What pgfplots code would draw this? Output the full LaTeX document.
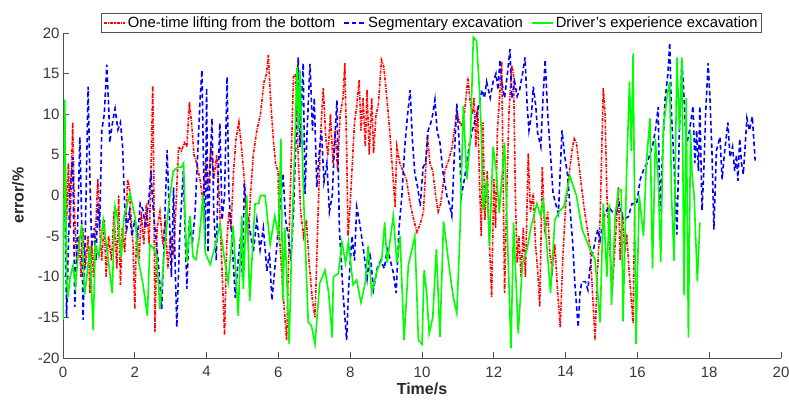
\documentclass[border=0pt]{standalone}
\usepackage{pgfplots}
\pgfplotsset{compat=1.18}
\usepackage{fontspec}
\setmainfont{Liberation Sans}
\definecolor{axgray}{RGB}{80,80,80}
\begin{document}
\begin{tikzpicture}
\path[use as bounding box] (-63pt,-45pt) rectangle (726pt,358pt);
\begin{axis}[
  scale only axis, width=718pt, height=325pt,
  xmin=0, xmax=20, ymin=-20, ymax=20,
  axis x line*=bottom, axis y line*=left,
  axis line style={axgray, line width=0.8pt},
  tick style={axgray, line width=0.8pt},
  tick align=inside, major tick length=6pt,
  xtick={0,2,...,20}, ytick={-20,-15,...,20},
  tick label style={font=\fontsize{15}{17}\selectfont, text=axgray!70!black},
  xticklabel style={yshift=-5pt},
  /pgf/number format/assume math mode=true,
  xlabel={\textbf{Time/s}}, ylabel={\textbf{error/\%}},
  label style={font=\fontsize{16}{18}\selectfont, text=axgray!50!black},
  xlabel style={yshift=1pt},
  ylabel style={yshift=7pt},
  legend columns=-1,
  legend image post style={xscale=1.25},
  legend style={at={(0.513,1.0)}, anchor=south, draw=axgray, line width=0.8pt,
     font=\fontsize{14.8}{16}\selectfont, inner sep=1.5pt,
     /tikz/every even column/.append style={column sep=6pt}},
  legend cell align=left,
]
\addplot[color=red, draw=red, line width=1.6pt, dash pattern=on 3pt off 1.2pt on 1pt off 1.2pt] coordinates {
(0,-2) (0.05,5) (0.1,-3) (0.15,4) (0.2,-4) (0.27,9) (0.32,-2) (0.38,-8) (0.45,-5) (0.5,-10) (0.55,-4) (0.62,-9) (0.7,-5) (0.75,-12) (0.8,-6) (0.85,-10) (0.92,-3) (0.97,2) (1.02,-4) (1.08,-8) (1.15,-3) (1.2,-10) (1.27,-5) (1.35,-8) (1.42,-2) (1.5,-9) (1.55,0) (1.6,-11) (1.65,-4) (1.72,-7) (1.8,2) (1.85,1) (1.9,-3) (1.95,-6) (2.0,-14) (2.05,-4) (2.12,-8) (2.18,-2) (2.25,-6) (2.32,-1) (2.4,-6) (2.45,3) (2.5,13.5) (2.53,2) (2.56,-16.8) (2.62,-4) (2.7,-2) (2.78,-6) (2.85,-3) (2.92,-9) (3.0,-5) (3.08,-7) (3.15,-1) (3.22,6) (3.3,5.5) (3.38,6.5) (3.45,6) (3.52,11.5) (3.58,9) (3.65,5) (3.72,4) (3.82,1.9) (3.9,-1) (3.97,4) (4.05,1) (4.12,6) (4.2,2) (4.28,5) (4.35,0) (4.42,-8) (4.5,-17.2) (4.56,-6) (4.62,-2) (4.68,-4) (4.75,3) (4.82,7) (4.9,9) (4.97,6) (5.05,2) (5.1,-3) (5.16,-5.8) (5.22,0) (5.3,5) (5.4,8) (5.5,10) (5.6,14) (5.67,15) (5.72,17.3) (5.78,12) (5.86,6.8) (5.92,4) (5.99,3) (6.03,-5) (6.1,-10) (6.18,-15) (6.23,-17.8) (6.3,-5) (6.36,5) (6.42,14.6) (6.48,15) (6.55,5) (6.62,-2) (6.7,-5) (6.78,-3) (6.85,-8) (6.95,-13) (7.02,-15) (7.1,-3) (7.18,8) (7.25,13.2) (7.32,7) (7.38,5) (7.45,10) (7.52,4) (7.58,8) (7.65,3) (7.72,10) (7.8,12) (7.85,16.3) (7.9,6) (7.94,-5) (8.0,-1) (8.06,4) (8.12,9) (8.18,11) (8.25,14.2) (8.3,8) (8.36,12) (8.42,6) (8.47,13) (8.53,5) (8.6,12) (8.65,5.2) (8.72,10) (8.78,11) (8.83,14) (8.87,16.7) (8.93,16) (9.0,13) (9.1,8) (9.18,3) (9.25,-1.4) (9.3,6) (9.38,4) (9.47,3) (9.57,1.9) (9.67,-1) (9.77,-3) (9.86,-4.5) (9.95,-3.5) (10.04,-2) (10.1,3) (10.15,7.5) (10.22,4) (10.3,3) (10.38,0) (10.45,-2) (10.52,-1) (10.58,1) (10.64,3.1) (10.72,4) (10.83,5.8) (10.9,8) (10.97,10.1) (11.05,9) (11.1,8.5) (11.18,10) (11.28,14.6) (11.33,12) (11.4,10) (11.45,12) (11.5,6) (11.55,11) (11.6,2) (11.65,-5) (11.7,9) (11.75,-3) (11.82,3) (11.88,-6) (11.94,-12.5) (12.0,2) (12.05,-4) (12.1,8) (12.16,12) (12.22,16.5) (12.26,2) (12.3,-12) (12.36,0) (12.42,10) (12.5,16) (12.55,15) (12.6,0) (12.65,-8.3) (12.7,-5) (12.76,-10) (12.82,-4) (12.88,-10) (12.96,5.2) (13.02,-2) (13.1,0.3) (13.16,-6) (13.22,-9) (13.28,-13.7) (13.35,3.5) (13.42,-4.7) (13.5,-2) (13.56,-7) (13.63,-9.2) (13.7,-6) (13.78,-12) (13.85,-16.2) (13.92,-8) (14.0,-1.4) (14.08,2) (14.18,5.6) (14.24,7) (14.3,6.5) (14.4,2.7) (14.5,-1) (14.6,-4) (14.68,-6.3) (14.75,-12) (14.82,-17.8) (14.88,-10) (14.96,-3) (15.02,8) (15.05,13.2) (15.1,10) (15.15,0) (15.22,-6) (15.3,-11.5) (15.38,-6) (15.47,1) (15.52,-8) (15.58,-2) (15.65,-7) (15.7,-4.7) (15.78,-10) (15.88,-15.7) (15.93,0)
};
\addlegendentry{One-time lifting from the bottom}
\addplot[color=blue, draw=blue, line width=1.6pt, dash pattern=on 4.5pt off 3pt] coordinates {
(0,-5) (0.05,2) (0.1,-15) (0.15,-6) (0.2,1) (0.27,4.7) (0.33,-13.7) (0.4,-5) (0.47,7.2) (0.52,-3) (0.56,-15.3) (0.62,-5) (0.7,13.4) (0.75,2) (0.8,-6.3) (0.87,-4) (0.92,-8) (0.97,-1) (1.02,-4) (1.08,8) (1.15,10) (1.22,16.1) (1.28,10) (1.3,6.5) (1.38,9) (1.45,10.7) (1.53,8.1) (1.6,9) (1.66,6) (1.72,-1.4) (1.78,-4) (1.85,-2) (1.92,-5) (2.0,-3) (2.08,-5) (2.15,-1) (2.23,-1.8) (2.3,-4) (2.4,0) (2.45,3) (2.5,-1) (2.58,-5) (2.65,-8) (2.75,-14) (2.82,-5) (2.9,5.6) (2.96,-2) (3.02,-10) (3.08,1) (3.12,-8) (3.17,-16.2) (3.25,-5) (3.35,3) (3.45,-11.5) (3.52,-3) (3.6,-6) (3.68,-2) (3.75,5) (3.82,12) (3.87,15.4) (3.92,2) (3.96,-6) (4.0,13.2) (4.04,-7) (4.1,4) (4.15,9.5) (4.2,-2) (4.27,-8) (4.32,2) (4.37,8.9) (4.43,-3) (4.5,0) (4.57,14.6) (4.62,0.3) (4.7,-5) (4.8,-12.6) (4.88,-8) (4.95,-5) (5.0,-10) (5.05,1.5) (5.12,-2) (5.2,-4) (5.3,-7) (5.4,-3) (5.49,-6.7) (5.58,-4) (5.68,-9.3) (5.75,-7) (5.82,-12.9) (5.9,-9) (5.96,-6) (6.05,-1) (6.13,2.7) (6.2,-3) (6.28,-5) (6.35,-8) (6.42,-2) (6.5,8) (6.55,17) (6.6,6) (6.65,12) (6.69,16.3) (6.74,0.2) (6.8,8) (6.88,16.2) (6.95,8) (7.0,12) (7.07,1) (7.13,5) (7.2,8) (7.27,1.7) (7.35,4) (7.42,-2) (7.5,0) (7.56,6) (7.63,11.7) (7.7,-4.2) (7.8,-12) (7.9,-17.8) (7.96,-11) (8.05,-5) (8.12,-8) (8.18,-1.4) (8.25,-3) (8.3,-4.5) (8.38,-7) (8.47,-10.3) (8.55,-7) (8.65,-11.5) (8.75,-9) (8.85,-8) (8.95,-9) (9.03,-6.6) (9.12,-8) (9.2,-9.5) (9.28,-12) (9.36,-4) (9.44,0) (9.52,6) (9.6,10) (9.67,13) (9.73,7) (9.8,2.7) (9.88,1) (9.95,-1.3) (10.03,3.5) (10.1,4) (10.17,8) (10.25,9) (10.3,10) (10.36,11.8) (10.42,8) (10.5,6.5) (10.58,3) (10.69,0) (10.76,-1) (10.83,-2.5) (10.9,5) (10.97,11.3) (11.03,7) (11.1,0) (11.18,2) (11.25,4) (11.32,6.3) (11.4,8) (11.48,9.3) (11.58,11) (11.67,13) (11.74,12) (11.8,14) (11.9,12) (11.98,14) (12.06,15) (12.12,13) (12.17,16.7) (12.22,14) (12.3,12) (12.38,15) (12.45,18) (12.5,12) (12.58,14) (12.65,12.2) (12.72,13) (12.8,15) (12.87,17) (12.93,11) (12.98,8) (13.05,10) (13.1,13.4) (13.17,11) (13.22,7.7) (13.31,6) (13.37,12) (13.43,16.7) (13.5,10.1) (13.58,5) (13.65,0.3) (13.72,-1) (13.8,-2.2) (13.85,3) (13.9,8) (13.97,5) (14.06,2.4) (14.13,-2) (14.2,-6) (14.26,-11) (14.35,-16.2) (14.4,-12) (14.45,-10.6) (14.55,-10.6) (14.62,-11.6) (14.7,-8) (14.78,-6.6) (14.85,-5) (14.9,-4.2) (14.96,-5.5) (15.05,-3) (15.12,-2) (15.2,-1.4) (15.3,-2) (15.4,-2.2) (15.5,-1) (15.6,-3) (15.75,-2.6) (15.85,-1) (15.98,-1) (16.08,2) (16.2,3.5) (16.28,4) (16.35,5.2) (16.42,6) (16.5,8) (16.58,10.9) (16.62,-2) (16.7,5) (16.77,11.8) (16.85,15) (16.9,18.8) (16.95,10) (17.02,4) (17.1,-4.8) (17.17,8) (17.24,16.7) (17.3,12) (17.36,6) (17.45,8) (17.55,11) (17.6,4) (17.65,8) (17.7,3) (17.74,11) (17.8,-1.8) (17.85,3) (17.9,10) (17.97,16.3) (18.02,12.1) (18.08,5) (18.13,-4.2) (18.2,5.5) (18.3,7.2) (18.36,2) (18.42,5) (18.52,9) (18.58,4.7) (18.65,6) (18.71,3) (18.76,5) (18.8,1.8) (18.85,7) (18.9,4) (18.95,2.6) (19.0,6) (19.05,9.5) (19.12,8) (19.2,9.7) (19.28,4.3)
};
\addlegendentry{Segmentary excavation}
\addplot[color=green, draw=green, line width=1.6pt] coordinates {
(0,-15.3) (0.03,0) (0.05,11.8) (0.08,-2) (0.1,-10) (0.14,-12.5) (0.2,-10) (0.28,-8.6) (0.35,-11) (0.45,-6) (0.52,-3.6) (0.6,-12.2) (0.65,-10.6) (0.75,-6.2) (0.84,-16.6) (0.9,-6) (1.0,-7.5) (1.12,-3) (1.25,-7.5) (1.37,-12) (1.45,-1.3) (1.53,-3) (1.62,-7.6) (1.7,-2.6) (1.87,0.3) (2.02,-3) (2.1,-8) (2.23,-11) (2.35,-14.8) (2.42,-6) (2.52,-6.5) (2.61,-7.5) (2.7,-14) (2.84,-6) (2.95,-1) (3.07,3) (3.2,3.5) (3.3,3.5) (3.36,4) (3.4,-2.6) (3.45,-8.2) (3.54,-2.5) (3.62,-7.5) (3.7,-7.9) (3.8,-5) (3.9,0) (3.96,-7) (4.1,-8.5) (4.25,-6) (4.37,-3.6) (4.5,-7.9) (4.6,-10.7) (4.74,-3.7) (4.88,-14.8) (4.98,-2.5) (5.02,-11.5) (5.12,0) (5.2,-13) (5.35,-1) (5.45,-1) (5.5,0) (5.63,0) (5.77,-6) (5.9,-2.5) (6.0,-5) (6.07,7) (6.12,-13) (6.18,-4) (6.3,-18.3) (6.38,-4.2) (6.45,5) (6.52,15.8) (6.56,8) (6.6,15.4) (6.7,0) (6.83,-15.6) (6.92,-16) (7.02,-18.3) (7.15,-10.8) (7.3,-9.2) (7.4,-12) (7.5,-17.5) (7.53,-10) (7.67,-9.6) (7.77,-5.7) (7.87,-8.3) (7.95,-5.7) (8.08,-11) (8.18,-10.4) (8.3,-13.2) (8.42,-10.7) (8.5,-6.2) (8.6,-12) (8.75,-9.2) (8.88,-7.9) (8.96,-3.3) (9.03,-8.3) (9.2,-2.5) (9.3,-8.3) (9.39,-5) (9.5,-17.8) (9.62,-8.6) (9.8,-5) (9.9,-17.8) (10.0,-18.3) (10.06,-9.2) (10.13,-12) (10.2,-17) (10.3,-15) (10.4,-6.6) (10.5,-17.4) (10.6,-3.2) (10.68,-6) (10.77,-9.3) (10.87,-12.5) (10.97,-14.5) (11.06,-4.2) (11.15,11) (11.25,2) (11.35,7.2) (11.43,19.5) (11.52,19) (11.6,13) (11.65,8) (11.7,-1.8) (11.8,2) (11.88,-6.2) (11.98,6) (12.07,3) (12.15,-2.2) (12.3,6.5) (12.4,-8) (12.48,-18.8) (12.55,-3.3) (12.68,-17) (12.8,-8.3) (12.93,-6.6) (13.03,-4) (13.2,-1) (13.3,-2.5) (13.38,-0.7) (13.58,-12) (13.7,-3) (13.85,-1.8) (13.95,-1.4) (14.12,2.4) (14.3,0) (14.46,-4.2) (14.65,-6.3) (14.82,-7.9) (14.96,-15.6) (15.05,-1) (15.15,-10) (15.22,-1) (15.28,-13.5) (15.38,-2.5) (15.47,0.7) (15.55,0.7) (15.6,-15.5) (15.7,3) (15.78,14) (15.83,5.5) (15.88,17.5) (15.96,-18.3) (16.05,0) (16.17,-5) (16.25,4) (16.35,9.5) (16.42,-9) (16.5,7) (16.58,2) (16.65,-8.2) (16.72,8) (16.82,12) (16.9,14) (16.95,0) (17.02,-8) (17.1,17) (17.17,8) (17.24,17) (17.3,-12.3) (17.36,12) (17.42,-17.5) (17.48,8) (17.52,2.7) (17.58,0) (17.67,-10.6) (17.74,-3.3)
};
\addlegendentry{Driver's experience excavation}
\end{axis}
\end{tikzpicture}
\end{document}
